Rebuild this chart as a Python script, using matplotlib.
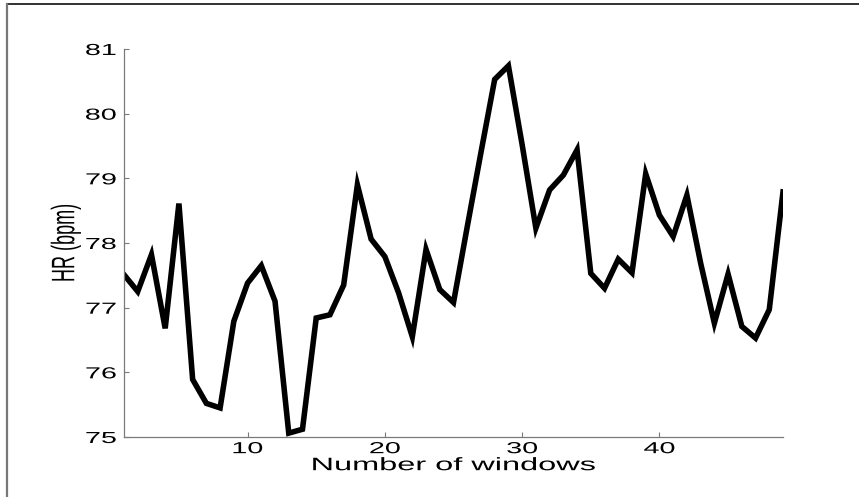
import matplotlib
matplotlib.use("Agg")
import matplotlib.pyplot as plt
from matplotlib.lines import Line2D
from matplotlib.patheffects import AbstractPathEffect
from matplotlib.transforms import Affine2D

# Heart rate per analysis window
windows = list(range(1, 50))
hr = [77.51, 77.25, 77.82, 76.68, 78.61, 75.89, 75.52, 75.45, 76.79, 77.38,
      77.65, 77.10, 75.06, 75.12, 76.84, 76.89, 77.35, 78.90, 78.06, 77.79,
      77.23, 76.55, 77.90, 77.28, 77.08, 78.25, 79.40, 80.53, 80.74, 79.52,
      78.23, 78.82, 79.05, 79.44, 77.53, 77.30, 77.75, 77.54, 79.07, 78.43,
      78.10, 78.74, 77.69, 76.76, 77.52, 76.71, 76.53, 76.97, 78.79]

x_ticks = [10, 20, 30, 40]
y_ticks = [75, 76, 77, 78, 79, 80, 81]
x_label = "Number of windows"
y_label = "HR (bpm)"


class WideText(AbstractPathEffect):
    """Draw glyphs widened horizontally about their centre or right edge."""

    def __init__(self, sx, anchor="center"):
        super().__init__()
        self.sx = sx
        self.anchor = anchor

    def draw_path(self, renderer, gc, tpath, affine, rgbFace=None):
        ext = tpath.get_extents(affine)
        cx = ext.x1 if self.anchor == "right" else 0.5 * (ext.x0 + ext.x1)
        aff = affine + Affine2D().translate(-cx, 0).scale(self.sx, 1).translate(cx, 0)
        renderer.draw_path(gc, tpath, aff, rgbFace)


SX = 1.8
plt.rcParams["font.family"] = ["Liberation Sans", "DejaVu Sans"]

fig = plt.figure(figsize=(8.59, 4.97), dpi=100)
ax = fig.add_axes([124 / 859, 60 / 497, 659 / 859, 388 / 497])

ax.plot(windows, hr, color="black", lw=4.0, solid_joinstyle="miter")

ax.set_xlim(1, 49)
ax.set_ylim(75, 81)
ax.set_xticks(x_ticks)
ax.set_yticks(y_ticks)

for side in ("top", "right"):
    ax.spines[side].set_visible(False)
for side in ("left", "bottom"):
    ax.spines[side].set_color("#7a7a7a")
    ax.spines[side].set_linewidth(0.9)

ax.tick_params(direction="in", length=3.5, width=0.8, color="#7a7a7a",
               labelcolor="black", labelsize=11.5)
ax.tick_params(axis="x", pad=3)
ax.tick_params(axis="y", pad=5.5)

for lbl in ax.get_xticklabels():
    lbl.set_path_effects([WideText(SX)])
for lbl in ax.get_yticklabels():
    lbl.set_path_effects([WideText(SX, anchor="right")])

ax.set_xlabel(x_label, fontsize=13, va="top")
ax.xaxis.set_label_coords(0.5, -0.052)
ax.xaxis.label.set_path_effects([WideText(SX)])

ax.set_ylabel(y_label, fontsize=13, va="center")
ax.yaxis.set_label_coords((66 - 124) / 659, 0.5)
ax.yaxis.label.set_path_effects([WideText(SX)])

# Outer frame: top and left edges of the figure
fig.add_artist(Line2D([7 / 859, 1.0], [1 - 4 / 497, 1 - 4 / 497],
                      transform=fig.transFigure, color="#222222", lw=1.3))
fig.add_artist(Line2D([7 / 859, 7 / 859], [0.0, 1 - 4 / 497],
                      transform=fig.transFigure, color="#777777", lw=1.6))

fig.savefig("out.png", dpi=100)
